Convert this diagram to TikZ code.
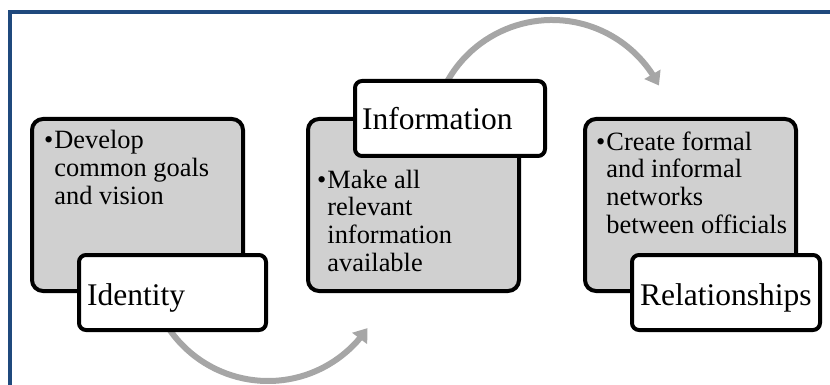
\documentclass[tikz,border=0pt]{standalone}
\usepackage{fontspec}
\setmainfont{Liberation Serif}
\usetikzlibrary{arrows.meta,bending}
\definecolor{frameblue}{RGB}{31,73,125}
\definecolor{boxgray}{RGB}{208,208,208}
\definecolor{arcgray}{RGB}{166,166,166}
\tikzset{
  graybox/.style={draw=black, line width=4pt, rounded corners=11pt, fill=boxgray,
    minimum width=211pt, minimum height=172pt, inner sep=0pt},
  whitebox/.style={draw=black, line width=4pt, rounded corners=7pt, fill=white,
    minimum height=75pt, inner sep=0pt},
  bodytext/.style={anchor=base west, inner sep=0pt, font=\fontsize{26.4}{27.8}\selectfont},
  headtext/.style={anchor=base west, inner sep=0pt, font=\fontsize{31.5}{36}\selectfont},
  arcarrow/.style={draw=arcgray, line width=6pt, -{Triangle[length=13pt,width=18pt]}}
}
\begin{document}
\begin{tikzpicture}[x=1pt,y=-1pt]
\useasboundingbox (0,0) rectangle (830,385);
% frame
\draw[frameblue, line width=4pt] (10,385) -- (10,12) -- (830,12);
% arc centres
\coordinate (bc) at (268,261);
\coordinate (tc) at (552,140);
\draw[arcarrow] (bc) ++(150:120) arc[start angle=150, end angle=34, radius=120];
\draw[arcarrow] (tc) ++(-155:120) arc[start angle=-155, end angle=-27, radius=120];
% gray boxes
\node[graybox] (g1) at (137.5,205) {};
\node[graybox] (g2) at (413.5,205) {};
\node[graybox] (g3) at (690.5,205) {};
% white boxes
\node[whitebox, minimum width=187pt] (w1) at (172.5,292.5) {};
\node[whitebox, minimum width=190pt] (w2) at (450,118.5) {};
\node[whitebox, minimum width=188pt] (w3) at (726,292.5) {};
% body texts
\node[bodytext] (t1) at (44,149) {\begin{tabular}[t]{@{}l@{\hspace{1pt}}l@{}}\textbullet&Develop\\&common goals\\&and vision\end{tabular}};
\node[bodytext] (t2) at (317,188) {\begin{tabular}[t]{@{}l@{\hspace{1pt}}l@{}}\textbullet&Make all\\&relevant\\&information\\&available\end{tabular}};
\node[bodytext] (t3) at (596,150) {\begin{tabular}[t]{@{}l@{\hspace{1pt}}l@{}}\textbullet&Create formal\\&and informal\\&networks\\&between officials\end{tabular}};
% headings
\node[headtext] (h1) at (87,305) {Identity};
\node[headtext] (h2) at (362,130) {Information};
\node[headtext] (h3) at (640,305) {Relationships};
\end{tikzpicture}
\end{document}
